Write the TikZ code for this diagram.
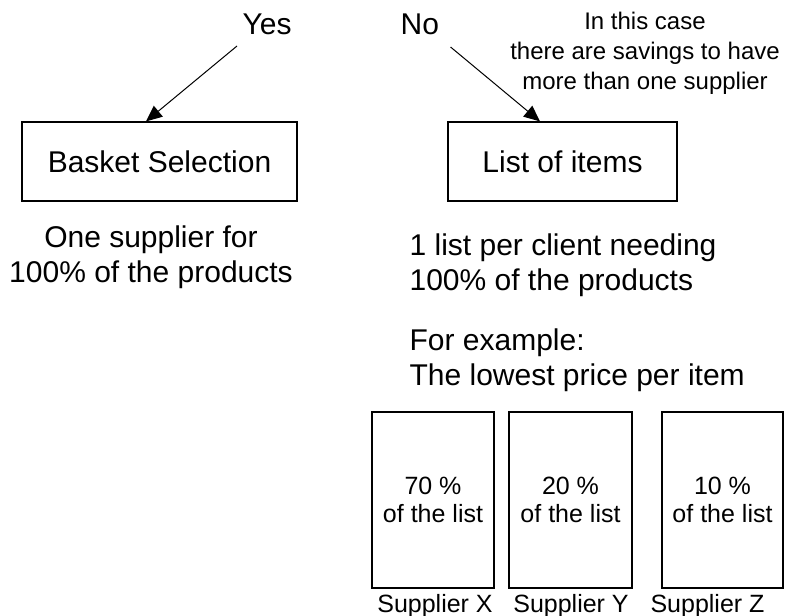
\documentclass[tikz,border=0pt]{standalone}
\usepackage{fontspec}
\setmainfont{Liberation Sans}
\usetikzlibrary{arrows.meta}

\begin{document}
\begin{tikzpicture}[x=1pt,y=-1pt,line width=1.2pt,
  box/.style={draw,inner sep=0pt},
  big/.style={font=\fontsize{30}{35}\selectfont,inner sep=0pt},
  small/.style={font=\fontsize{24}{29.5}\selectfont,inner sep=0pt},
  pct/.style={font=\fontsize{25}{28}\selectfont,inner sep=0pt},
  arr/.style={-{Triangle[length=16pt,width=14pt]},line width=1pt}]
\useasboundingbox (0,0) rectangle (799,615);

% Yes / No and remark
\node[big,anchor=base west] (yes) at (242,35) {Yes};
\node[big,anchor=base west] (no) at (400,35) {No};
\node[small,align=center,anchor=base] (remark) at (645,89) {In this case\\there are savings to have\\more than one supplier};

% Basket selection and list of items
\node[box,big,minimum width=275pt,minimum height=79pt] (basket) at (159.5,161.5) {Basket Selection};
\node[box,big,minimum width=229pt,minimum height=79pt] (list) at (562.5,161.5) {List of items};
\draw[arr] ([xshift=-5pt,yshift=-11pt]yes.base west) -- ([xshift=-13.5pt]basket.north);
\draw[arr] ([xshift=11pt,yshift=-12pt]no.base east) -- ([xshift=-22.5pt]list.north);

\node[big,align=center,anchor=base] (onesup) at (151,282) {One supplier for\\100\% of the products};
\node[big,align=left,anchor=base west] (perclient) at (409,290) {1 list per client needing\\100\% of the products};
\node[big,align=left,anchor=base west] (example) at (409,385) {For example:\\The lowest price per item};

% Suppliers
\node[box,pct,align=center,minimum width=122pt,minimum height=176pt] (supx) at (433,500) {70 \%\\of the list};
\node[box,pct,align=center,minimum width=123pt,minimum height=176pt] (supy) at (570.5,500) {20 \%\\of the list};
\node[box,pct,align=center,minimum width=121pt,minimum height=176pt] (supz) at (722.5,500) {10 \%\\of the list};
\node[pct,anchor=base] (labx) at (435,612) {Supplier X};
\node[pct,anchor=base] (laby) at (571,612) {Supplier Y};
\node[pct,anchor=base] (labz) at (707.5,612) {Supplier Z};

\end{tikzpicture}
\end{document}
